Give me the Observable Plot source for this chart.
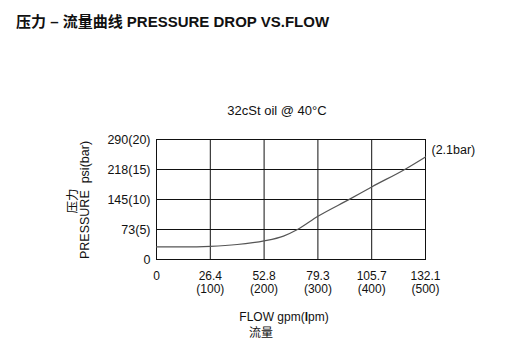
<!DOCTYPE html>
<html>
<head>
<meta charset="utf-8">
<script src="https://cdn.jsdelivr.net/npm/d3@7"></script>
<script src="https://cdn.jsdelivr.net/npm/@observablehq/plot@0.6"></script>
<style>
  html, body { margin: 0; padding: 0; background: #fff; }
  #chart { width: 507px; height: 361px; }
  svg text { font-family: "Liberation Sans", Arial, "Noto Sans CJK SC", sans-serif; }
</style>
</head>
<body>
<div id="chart"></div>
<script>
// Flow in lpm, pressure drop in bar
const flowLpm = [0, 50, 100, 150, 200, 236, 262, 300, 360, 400, 463, 500];
const pressureBar = [2.1, 2.1, 2.2, 2.5, 3.1, 3.9, 5.0, 7.2, 10.1, 12.1, 15.1, 17.1];

const xTicks = [0, 100, 200, 300, 400, 500];
const xTickLabels = ["0", "26.4\n(100)", "52.8\n(200)", "79.3\n(300)", "105.7\n(400)", "132.1\n(500)"];
const yTicks = [0, 5, 10, 15, 20];
const yTickLabels = ["0", "73(5)", "145(10)", "218(15)", "290(20)"];

const title = "压力 – 流量曲线 PRESSURE DROP VS.FLOW";
const subtitle = "32cSt oil @ 40°C";
const endLabel = "(2.1bar)";
const yLabel1 = "压力";
const yLabel2 = "PRESSURE  psi(bar)";
const xLabel2 = "流量";

const data = flowLpm.map((f, i) => ({flow: f, bar: pressureBar[i]}));

const plot = Plot.plot({
  width: 507,
  height: 361,
  marginLeft: 156,
  marginRight: 82,
  marginTop: 139,
  marginBottom: 102,
  style: {fontFamily: '"Liberation Sans", Arial, "Noto Sans CJK SC", sans-serif', fontSize: "12px", color: "#111", background: "#fff"},
  x: {domain: [0, 500]},
  y: {domain: [0, 20]},
  marks: [
    Plot.gridX(xTicks, {stroke: "#111", strokeOpacity: 1, strokeWidth: 1}),
    Plot.gridY(yTicks, {stroke: "#111", strokeOpacity: 1, strokeWidth: 1}),
    Plot.frame({stroke: "#111", strokeWidth: 1}),
    Plot.axisX({ticks: xTicks, tickSize: 0, tickPadding: 11, tickFormat: (d) => xTickLabels[xTicks.indexOf(d)], label: null, lineHeight: 1.1, fontSize: 12, fill: "#111"}),
    Plot.axisY({ticks: yTicks, tickSize: 0, tickPadding: 6, tickFormat: (d) => yTickLabels[yTicks.indexOf(d)], label: null, fontSize: 12.5, fill: "#111"}),
    Plot.line(data, {x: "flow", y: "bar", curve: "monotone-x", stroke: "#555", strokeWidth: 1.2}),
    Plot.text([data[data.length - 1]], {x: "flow", y: "bar", text: () => endLabel, textAnchor: "start", dx: 6, dy: -7, fontSize: 12.5, fill: "#111"})
  ]
});

const svg = d3.select(plot);
svg.append("text").attr("x", 16).attr("y", 27).attr("text-anchor", "start").attr("font-size", 15).attr("font-weight", "bold").attr("fill", "#111").text(title);
svg.append("text").attr("x", 277).attr("y", 115).attr("text-anchor", "middle").attr("font-size", 13).attr("fill", "#111").text(subtitle);
svg.append("text").attr("transform", "translate(89,200) rotate(-90)").attr("text-anchor", "middle").attr("font-size", 12.5).attr("fill", "#111").text(yLabel2);
svg.append("text").attr("transform", "translate(77,201) rotate(-90)").attr("text-anchor", "middle").attr("font-size", 12.5).attr("fill", "#111").text(yLabel1);
const xl = svg.append("text").attr("x", 284).attr("y", 321).attr("text-anchor", "middle").attr("font-size", 12).attr("fill", "#111");
xl.append("tspan").text("FLOW gpm(");
xl.append("tspan").attr("font-weight", "bold").text("l");
xl.append("tspan").text("pm)");
svg.append("text").attr("x", 261).attr("y", 337).attr("text-anchor", "middle").attr("font-size", 12).attr("fill", "#111").text(xLabel2);

document.getElementById("chart").appendChild(plot);
</script>
</body>
</html>
